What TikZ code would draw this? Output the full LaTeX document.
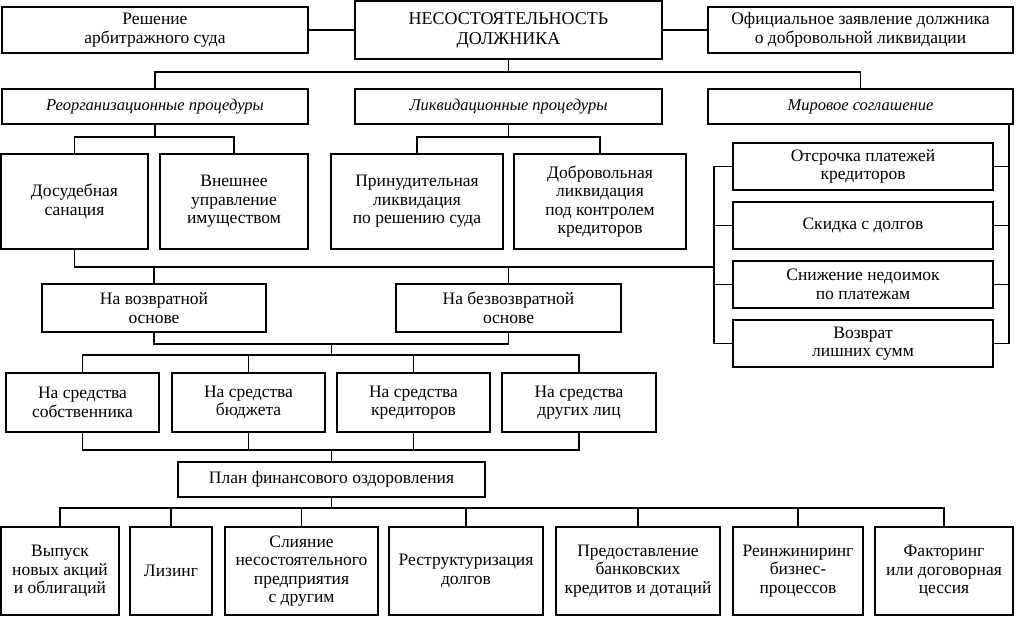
\documentclass[tikz,border=0pt]{standalone}
\usepackage{fontspec}
\setmainfont{Liberation Serif}
\usetikzlibrary{calc}

\begin{document}
\begin{tikzpicture}[x=1pt, y=-1pt,
    box/.style={draw, line width=1.1pt, align=center, inner sep=0pt,
        font=\fontsize{17.5}{18.5}\selectfont},
    proc/.style={box, minimum height=35pt, font=\fontsize{16.5}{18}\selectfont\itshape},
    link/.style={line width=1.1pt}]

    \useasboundingbox (0,0) rectangle (1017,616);

    % top row
    \node[box, minimum width=306pt, minimum height=46pt] (Resh) at (155, 30) {Решение\\арбитражного суда};
    \node[box, minimum width=307pt, minimum height=58pt, font=\fontsize{18}{20}\selectfont] (Nes) at (508.5, 30) {НЕСОСТОЯТЕЛЬНОСТЬ\\ДОЛЖНИКА};
    \node[box, minimum width=305pt, minimum height=46pt] (Ofic) at (860.5, 30) {Официальное заявление должника\\о добровольной ликвидации};

    % procedures
    \node[proc, minimum width=306pt] (Reorg) at (155, 106.5) {Реорганизационные процедуры};
    \node[proc, minimum width=307pt] (Likv) at (508.5, 106.5) {Ликвидационные процедуры};
    \node[proc, minimum width=305pt] (Mir) at (860.5, 106.5) {Мировое соглашение};

    \node[box, minimum width=147pt, minimum height=95pt] (Dosud) at (74.5, 201.5) {Досудебная\\санация};
    \node[box, minimum width=148pt, minimum height=95pt] (Vnesh) at (234, 201.5) {Внешнее\\управление\\имуществом};
    \node[box, minimum width=172pt, minimum height=95pt] (Prin) at (417, 201.5) {Принудительная\\ликвидация\\по решению суда};
    \node[box, minimum width=172pt, minimum height=95pt] (Dobr) at (600, 201.5) {Добровольная\\ликвидация\\под контролем\\кредиторов};

    % settlement
    \node[box, minimum width=260pt, minimum height=47pt] (Otsr) at (863, 166.5) {Отсрочка платежей\\кредиторов};
    \node[box, minimum width=260pt, minimum height=47pt] (Skid) at (863, 225.5) {Скидка с долгов};
    \node[box, minimum width=260pt, minimum height=47pt] (Sniz) at (863, 284.5) {Снижение недоимок\\по платежам};
    \node[box, minimum width=260pt, minimum height=47pt] (Lish) at (863, 343.5) {Возврат\\лишних сумм};

    \node[box, minimum width=224pt, minimum height=48pt] (Vozvr) at (154, 308) {На возвратной\\основе};
    \node[box, minimum width=225pt, minimum height=48pt] (Bezvozvr) at (508.5, 308) {На безвозвратной\\основе};

    % sources
    \node[box, minimum width=153pt, minimum height=59pt] (Sobs) at (82.5, 402.5) {На средства\\собственника};
    \node[box, minimum width=153pt, minimum height=59pt] (Budz) at (248.5, 402.5) {На средства\\бюджета};
    \node[box, minimum width=153pt, minimum height=59pt] (Kred) at (413.5, 402.5) {На средства\\кредиторов};
    \node[box, minimum width=154pt, minimum height=59pt] (Drug) at (579, 402.5) {На средства\\других лиц};

    \node[box, minimum width=307pt, minimum height=35pt] (Plan) at (331.5, 479.5) {План финансового оздоровления};

    % measures
    \node[box, minimum width=118pt, minimum height=88pt] (Vyp) at (60, 571) {Выпуск\\новых акций\\и облигаций};
    \node[box, minimum width=82pt, minimum height=88pt] (Liz) at (171, 571) {Лизинг};
    \node[box, minimum width=153pt, minimum height=88pt] (Sliy) at (301.5, 571) {Слияние\\несостоятельного\\предприятия\\с другим};
    \node[box, minimum width=154pt, minimum height=88pt] (Restr) at (466, 571) {Реструктуризация\\долгов};
    \node[box, minimum width=164pt, minimum height=88pt] (Pred) at (638, 571) {Предоставление\\банковских\\кредитов и дотаций};
    \node[box, minimum width=130pt, minimum height=88pt] (Rein) at (798, 571) {Реинжиниринг\\бизнес-\\процессов};
    \node[box, minimum width=138pt, minimum height=88pt] (Fakt) at (944, 571) {Факторинг\\или договорная\\цессия};

    \coordinate (b1) at (0, 72);
    \coordinate (b2) at (0, 137);
    \coordinate (b3) at (0, 267);
    \coordinate (b4) at (0, 344);
    \coordinate (b5) at (0, 355);
    \coordinate (b6) at (0, 450);
    \coordinate (b7) at (0, 508);
    \coordinate (lr) at (714, 0);
    \coordinate (rr) at (1009, 0);

    \draw[link] (Resh.east) -- (Nes.west);
    \draw[link] (Nes.east) -- (Ofic.west);
    \draw[link] (Nes.south) -- (Nes.south |- b1);
    \draw[link] (Reorg.north) |- (Mir.north |- b1) -- (Mir.north);

    \draw[link] (Reorg.south) -- (Reorg.south |- b2);
    \draw[link] (Dosud.north) |- (Vnesh.north |- b2) -- (Vnesh.north);
    \draw[link] (Likv.south) -- (Likv.south |- b2);
    \draw[link] (Prin.north) |- (Dobr.north |- b2) -- (Dobr.north);

    \draw[link] (Mir.south -| rr) |- (Lish.east);
    \draw[link] (Otsr.west) -| (lr |- Lish.west) -- (Lish.west);
    \foreach \n in {Otsr, Skid, Sniz} {
        \draw[link] (\n.east) -- (\n.east -| rr);
    }
    \foreach \n in {Skid, Sniz} {
        \draw[link] (\n.west) -- (\n.west -| lr);
    }

    \draw[link] (Dosud.south) |- (lr |- b3);
    \draw[link] (Vozvr.north) -- (Vozvr.north |- b3);
    \draw[link] (Bezvozvr.north) -- (Bezvozvr.north |- b3);

    \draw[link] (Vozvr.south) |- (Bezvozvr.south |- b4) -- (Bezvozvr.south);
    \coordinate (m4) at ($(Vozvr.south |- b4)!0.5!(Bezvozvr.south |- b4)$);
    \draw[link] (m4) -- (m4 |- b5);
    \draw[link] (Sobs.north) |- (Drug.north |- b5) -- (Drug.north);
    \foreach \n in {Budz, Kred} {
        \draw[link] (\n.north) -- (\n.north |- b5);
    }

    \draw[link] (Sobs.south) |- (Drug.south |- b6) -- (Drug.south);
    \foreach \n in {Budz, Kred} {
        \draw[link] (\n.south) -- (\n.south |- b6);
    }
    \draw[link] (Plan.north) -- (Plan.north |- b6);

    \draw[link] (Plan.south) -- (Plan.south |- b7);
    \draw[link] (Vyp.north) |- (Fakt.north |- b7) -- (Fakt.north);
    \foreach \n in {Liz, Sliy, Restr, Pred, Rein} {
        \draw[link] (\n.north) -- (\n.north |- b7);
    }

\end{tikzpicture}
\end{document}
